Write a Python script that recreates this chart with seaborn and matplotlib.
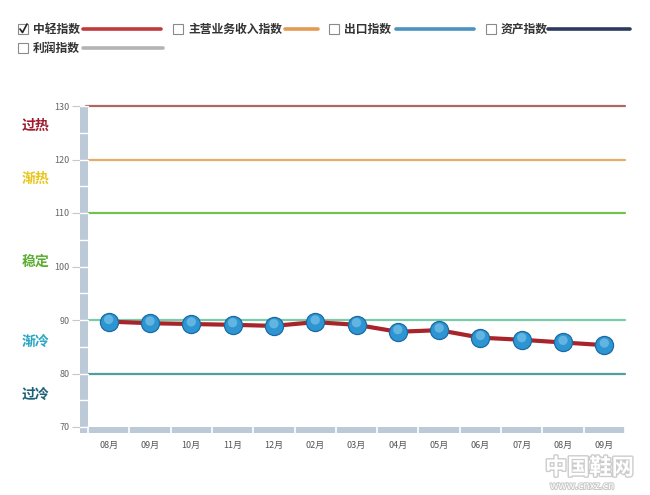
import matplotlib
matplotlib.use("Agg")
import matplotlib.pyplot as plt
import matplotlib.patches as mpatches
import matplotlib.lines as mlines
import matplotlib.patheffects as pe
import matplotlib.transforms as mtrans
import seaborn as sns
import pandas as pd

# ---- data ----
months = ["08月", "09月", "10月", "11月", "12月", "02月", "03月",
          "04月", "05月", "06月", "07月", "08月", "09月"]
index_values = [89.7, 89.4, 89.25, 89.1, 88.9, 89.6, 89.1,
                87.8, 88.1, 86.7, 86.3, 85.8, 85.3]
y_ticks = [70, 80, 90, 100, 110, 120, 130]
zone_levels = [130, 120, 110, 90, 80]
zone_line_colors = ["#a86a62", "#e6ad6a", "#72c24e", "#7acba6", "#4f9ea0"]
zone_names = ["过热", "渐热", "稳定", "渐冷", "过冷"]
zone_name_y = [126.2, 116.3, 100.9, 86.0, 76.0]
zone_name_colors = ["#9c1c2e", "#e8c61c", "#5cae34", "#2aa6c4", "#1d5f78"]
legend_names = ["中轻指数", "主营业务收入指数", "出口指数", "资产指数", "利润指数"]
legend_colors = ["#c0393b", "#e39a52", "#4a92c2", "#2b3a5e", "#b4b4b4"]

sns.set_theme(style="white")
plt.rcParams["font.family"] = ["Noto Sans CJK SC", "DejaVu Sans"]

W, H = 650, 495
fig = plt.figure(figsize=(6.5, 4.95), dpi=100)
fig.patch.set_facecolor("white")

def fx(x):
    return x / W

def fy(y):
    return 1 - y / H

ax_left, ax_right, ax_top, ax_bot = 88, 625, 106, 427
ax = fig.add_axes([fx(ax_left), fy(ax_bot), (ax_right - ax_left) / W, (ax_bot - ax_top) / H])
ax.set_facecolor("white")

df = pd.DataFrame({"pos": list(range(len(months))), "val": index_values})

# zone lines
for lvl, c in zip(zone_levels, zone_line_colors):
    ax.axhline(lvl, xmin=-2 / (ax_right - ax_left), xmax=1.0, color=c, lw=1.6, zorder=1, clip_on=False)

sns.lineplot(data=df, x="pos", y="val", ax=ax, color="#a8242a", lw=3.0, zorder=3)
sns.scatterplot(data=df, x="pos", y="val", ax=ax, s=170, color="#2d95d2",
                edgecolor="#1a6aa4", linewidth=0.9, zorder=4)
# highlight
ax.scatter(df["pos"], df["val"] + 0.4, s=45, color="#a6ddf5", alpha=0.45,
           edgecolors="none", zorder=5)

ax.set_xlim(-0.5, len(months) - 0.5)
ax.set_ylim(70, 130)
ax.set_yticks(y_ticks)
ax.set_yticklabels([str(t) for t in y_ticks], fontsize=6.5, color="#666666")
ax.set_xticks(range(len(months)))
ax.set_xticklabels(months, fontsize=6.5, color="#555555")
ax.tick_params(axis="y", length=11.5, width=0.8, color="#c8c8c8", pad=2, left=True, direction="out")
ax.tick_params(axis="x", length=0, pad=10)
ax.set_xlabel("")
ax.set_ylabel("")
for s in ax.spines.values():
    s.set_visible(False)

# left vertical bar with segments every 5 units
bar_col = "#bccad8"
ytr = mtrans.blended_transform_factory(ax.transAxes, ax.transData)
bw = 8 / (ax_right - ax_left)
ax.add_patch(mpatches.Rectangle((-bw, 70), bw, 60, transform=ytr, color=bar_col,
                                clip_on=False, zorder=6, lw=0))
for v in range(70, 131, 5):
    ax.add_line(mlines.Line2D([-bw, 0], [v, v], transform=ytr, color="white", lw=1.0,
                              clip_on=False, zorder=7))
# bottom bar with segments per category
xtr = mtrans.blended_transform_factory(ax.transData, ax.transAxes)
bh = 6 / (ax_bot - ax_top)
ax.add_patch(mpatches.Rectangle((-bw, -bh), 1 + bw, bh, transform=ax.transAxes,
                                color=bar_col, clip_on=False, zorder=6, lw=0))
for i in range(len(months) + 1):
    ax.add_line(mlines.Line2D([i - 0.5, i - 0.5], [-bh, 0], transform=xtr, color="white",
                              lw=1.2, clip_on=False, zorder=7))

# zone names
ztr = mtrans.blended_transform_factory(fig.transFigure, ax.transData)
for name, yv, c in zip(zone_names, zone_name_y, zone_name_colors):
    ax.text(fx(22), yv, name, transform=ztr, fontsize=10, fontweight="bold", color=c,
            ha="left", va="center", clip_on=False)

# legend
def checkbox(x, y, checked):
    fig.add_artist(mpatches.Rectangle((fx(x), fy(y + 5)), 10 / W, 10 / H, transform=fig.transFigure,
                                      facecolor="white", edgecolor="#8a8a8a", lw=0.8))
    if checked:
        fig.add_artist(mlines.Line2D([fx(x + 2), fx(x + 4.5), fx(x + 9)],
                                     [fy(y), fy(y + 3.5), fy(y - 5)],
                                     transform=fig.transFigure, color="#222222", lw=1.2))

legend_layout = [(18, 29, 33, 83, 161), (173, 29, 188, 285, 318), (329, 29, 344, 396, 474),
                 (486, 29, 501, 548, 630), (18, 48, 33, 83, 163)]
for i, (name, col, (cx, cy, tx, l0, l1)) in enumerate(zip(legend_names, legend_colors, legend_layout)):
    checkbox(cx, cy, i == 0)
    fig.text(fx(tx), fy(cy), name, fontsize=8.5, fontweight="bold", color="#333333",
             ha="left", va="center")
    fig.add_artist(mlines.Line2D([fx(l0), fx(l1)], [fy(cy), fy(cy)], transform=fig.transFigure,
                                 color=col, lw=2.6, solid_capstyle="round"))

# watermark
stroke = [pe.withStroke(linewidth=2.0, foreground="#cccccc")]
fig.text(fx(545), fy(468), "中国鞋网", fontsize=16, fontweight="bold", color="white",
         ha="left", va="center", path_effects=stroke, zorder=20)
fig.text(fx(550), fy(486), "www.cnxz.cn", fontsize=7.5, color="white", ha="left", va="center",
         path_effects=[pe.withStroke(linewidth=1.5, foreground="#cccccc")], zorder=20)

fig.savefig("out.png", dpi=100, facecolor="white")
